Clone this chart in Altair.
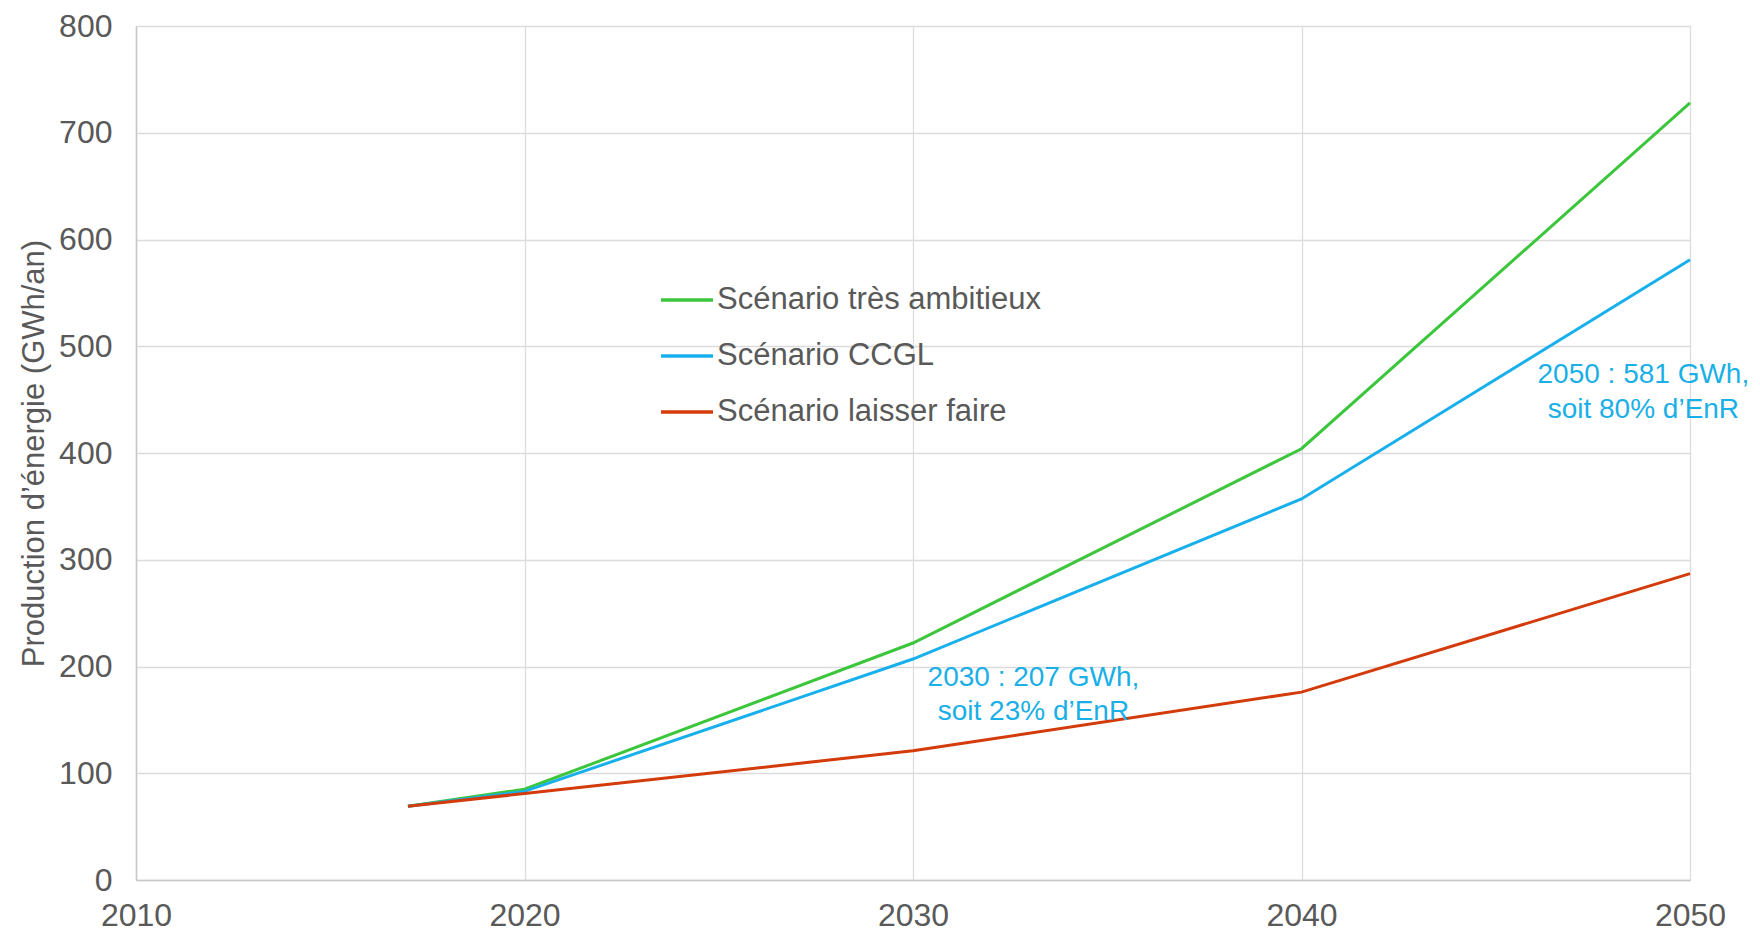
import altair as alt
import pandas as pd

# ---- data ----
years = [2017, 2020, 2030, 2040, 2050]
tres_ambitieux = [69, 85, 222, 404, 728]
ccgl = [69, 83, 207, 357, 581]
laisser_faire = [69, 81, 121, 176, 287]

series_names = ["Scénario très ambitieux", "Scénario CCGL", "Scénario laisser faire"]
series_colors = ["#3CC63C", "#18B0EC", "#D33B0B"]

x_ticks = [2010, 2020, 2030, 2040, 2050]
y_ticks = [0, 100, 200, 300, 400, 500, 600, 700, 800]

ann_text = ["2050 : 581 GWh,", "soit 80% d’EnR", "2030 : 207 GWh,", "soit 23% d’EnR"]
ann_x = [2048.8, 2048.8, 2033.1, 2033.1]
ann_y = [473, 440, 189, 157]

FONT = "Liberation Sans"
GREY = "#595959"

rows = []
for name, vals in zip(series_names, [tres_ambitieux, ccgl, laisser_faire]):
    for yr, v in zip(years, vals):
        rows.append({"annee": yr, "valeur": v, "scenario": name})
df = pd.DataFrame(rows)

ann_df = pd.DataFrame({"x": ann_x, "y": ann_y, "t": ann_text})

xscale = alt.Scale(domain=[2010, 2050], nice=False, zero=False)
yscale = alt.Scale(domain=[0, 800], nice=False)

lines = alt.Chart(df).mark_line(strokeWidth=3).encode(
    x=alt.X("annee:Q", scale=xscale,
            axis=alt.Axis(values=x_ticks, format="d", title=None, ticks=False,
                          labelFontSize=32, labelPadding=20, labelColor=GREY,
                          labelFont=FONT, domainColor="#c8c8c8", domainWidth=1.5,
                          gridColor="#dcdcdc", gridWidth=1.3, labelFlush=False)),
    y=alt.Y("valeur:Q", scale=yscale,
            axis=alt.Axis(values=y_ticks, title="Production d’énergie (GWh/an)",
                          ticks=False, labelFontSize=32, labelPadding=24,
                          labelColor=GREY, labelFont=FONT,
                          titleFont=FONT, titleFontSize=31, titleFontWeight="normal",
                          titleColor=GREY, titlePadding=8,
                          domainColor="#c8c8c8", domainWidth=1.5,
                          gridColor="#dcdcdc", gridWidth=1.3, labelFlush=False)),
    color=alt.Color("scenario:N",
                    scale=alt.Scale(domain=series_names, range=series_colors),
                    sort=series_names,
                    legend=alt.Legend(orient="none", legendX=523, legendY=246,
                                      title=None, symbolType="stroke",
                                      symbolSize=2700, symbolStrokeWidth=3.3,
                                      labelFontSize=31, labelColor=GREY,
                                      labelFont=FONT, labelLimit=600,
                                      rowPadding=13, labelOffset=2)),
    detail="scenario:N",
)

ann = alt.Chart(ann_df).mark_text(fontSize=28, font=FONT, color="#1AAFE6",
                                  align="center", baseline="middle").encode(
    x=alt.X("x:Q", scale=xscale),
    y=alt.Y("y:Q", scale=yscale),
    text="t:N",
)

chart = alt.layer(lines, ann).properties(
    width=1554, height=854,
    autosize=alt.AutoSizeParams(type="none"),
    padding={"left": 128, "top": 18, "right": 62, "bottom": 54},
).configure_view(stroke=None).configure(background="white")

chart.save("out.html", embed_options={"renderer": "svg", "actions": False})
